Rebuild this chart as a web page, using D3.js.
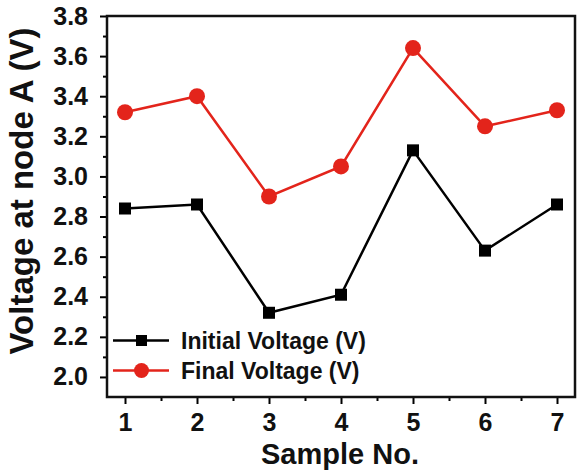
<!DOCTYPE html>
<html>
<head>
<meta charset="utf-8">
<script src="https://cdn.jsdelivr.net/npm/d3@7"></script>
<style>
  body { margin: 0; background: #fff; }
  text { font-family: "Liberation Sans", Arial, sans-serif; font-weight: bold; }
</style>
</head>
<body>
<div id="chart"></div>
<script>
var samples = [1, 2, 3, 4, 5, 6, 7];
var initialVoltage = [2.84, 2.86, 2.32, 2.41, 3.13, 2.63, 2.86];
var finalVoltage = [3.32, 3.40, 2.90, 3.05, 3.64, 3.25, 3.33];
var yTicks = [2.0, 2.2, 2.4, 2.6, 2.8, 3.0, 3.2, 3.4, 3.6, 3.8];
var seriesNames = ["Initial Voltage (V)", "Final Voltage (V)"];

var svgWidth = 577;
var svgHeight = 471;
var margin = { top: 16, right: 2, bottom: 74, left: 107 };
var width = svgWidth - margin.left - margin.right;
var height = svgHeight - margin.top - margin.bottom;

var svg = d3.select("#chart").append("svg")
  .attr("width", svgWidth)
  .attr("height", svgHeight);

var chartGroup = svg.append("g")
  .attr("transform", `translate(${margin.left}, ${margin.top})`);

var xScale = d3.scaleLinear().domain([0.75, 7.25]).range([0, width]);
var yScale = d3.scaleLinear().domain([1.9, 3.8]).range([height, 0]);

// minor ticks
chartGroup.append("g")
  .attr("transform", `translate(0, ${height})`)
  .call(d3.axisBottom(xScale).tickValues([1.5, 2.5, 3.5, 4.5, 5.5, 6.5]).tickSize(4).tickFormat(""))
  .call(g => g.select(".domain").remove())
  .selectAll("line").attr("stroke-width", 2);

chartGroup.append("g")
  .call(d3.axisLeft(yScale).tickValues([2.1, 2.3, 2.5, 2.7, 2.9, 3.1, 3.3, 3.5, 3.7]).tickSize(4).tickFormat(""))
  .call(g => g.select(".domain").remove())
  .selectAll("line").attr("stroke-width", 2);

// major ticks
var xAxis = chartGroup.append("g")
  .attr("transform", `translate(0, ${height})`)
  .call(d3.axisBottom(xScale).tickValues(samples).tickSize(7).tickPadding(9).tickFormat(d3.format("d")));
xAxis.select(".domain").remove();
xAxis.selectAll("line").attr("stroke-width", 2);
xAxis.selectAll("text").attr("font-size", 25).attr("fill", "#111");

var yAxis = chartGroup.append("g")
  .call(d3.axisLeft(yScale).tickValues(yTicks).tickSize(7).tickPadding(12).tickFormat(d3.format(".1f")));
yAxis.select(".domain").remove();
yAxis.selectAll("line").attr("stroke-width", 2);
yAxis.selectAll("text").attr("font-size", 25).attr("fill", "#111");

// frame
chartGroup.append("rect")
  .attr("width", width)
  .attr("height", height)
  .attr("fill", "none")
  .attr("stroke", "#111")
  .attr("stroke-width", 2.5);

var line = d3.line()
  .x((d, i) => xScale(samples[i]))
  .y(d => yScale(d));

chartGroup.append("path")
  .datum(initialVoltage)
  .attr("d", line)
  .attr("fill", "none")
  .attr("stroke", "#000")
  .attr("stroke-width", 2.5);

chartGroup.append("path")
  .datum(finalVoltage)
  .attr("d", line)
  .attr("fill", "none")
  .attr("stroke", "#e3241b")
  .attr("stroke-width", 2.5);

chartGroup.selectAll(".sq")
  .data(initialVoltage)
  .enter()
  .append("rect")
  .attr("x", (d, i) => xScale(samples[i]) - 6)
  .attr("y", d => yScale(d) - 6)
  .attr("width", 12)
  .attr("height", 12)
  .attr("fill", "#000");

chartGroup.selectAll(".dot")
  .data(finalVoltage)
  .enter()
  .append("circle")
  .attr("cx", (d, i) => xScale(samples[i]))
  .attr("cy", d => yScale(d))
  .attr("r", 8)
  .attr("fill", "#e3241b");

// legend
var legend = chartGroup.append("g").attr("transform", "translate(6, 324.5)");
[0, 1].forEach(function(i) {
  var g = legend.append("g").attr("transform", `translate(0, ${i * 30})`);
  var col = i == 0 ? "#000" : "#e3241b";
  g.append("line").attr("x1", 0).attr("x2", 56).attr("y1", 0).attr("y2", 0)
    .attr("stroke", col).attr("stroke-width", 2.5);
  if (i == 0) {
    g.append("rect").attr("x", 23).attr("y", -5.5).attr("width", 11).attr("height", 11).attr("fill", col);
  } else {
    g.append("circle").attr("cx", 28.5).attr("cy", 0).attr("r", 7.5).attr("fill", col);
  }
  g.append("text").attr("x", 68).attr("y", 0).attr("dy", "0.36em")
    .attr("font-size", 23).attr("fill", "#111").text(seriesNames[i]);
});

// axis titles
svg.append("text")
  .attr("transform", `translate(340, 464)`)
  .attr("text-anchor", "middle")
  .attr("font-size", 29)
  .attr("fill", "#111")
  .text("Sample No.");

svg.append("text")
  .attr("transform", `translate(33, 191) rotate(-90)`)
  .attr("text-anchor", "middle")
  .attr("font-size", 33)
  .attr("fill", "#111")
  .text("Voltage at node A (V)");
</script>
</body>
</html>
